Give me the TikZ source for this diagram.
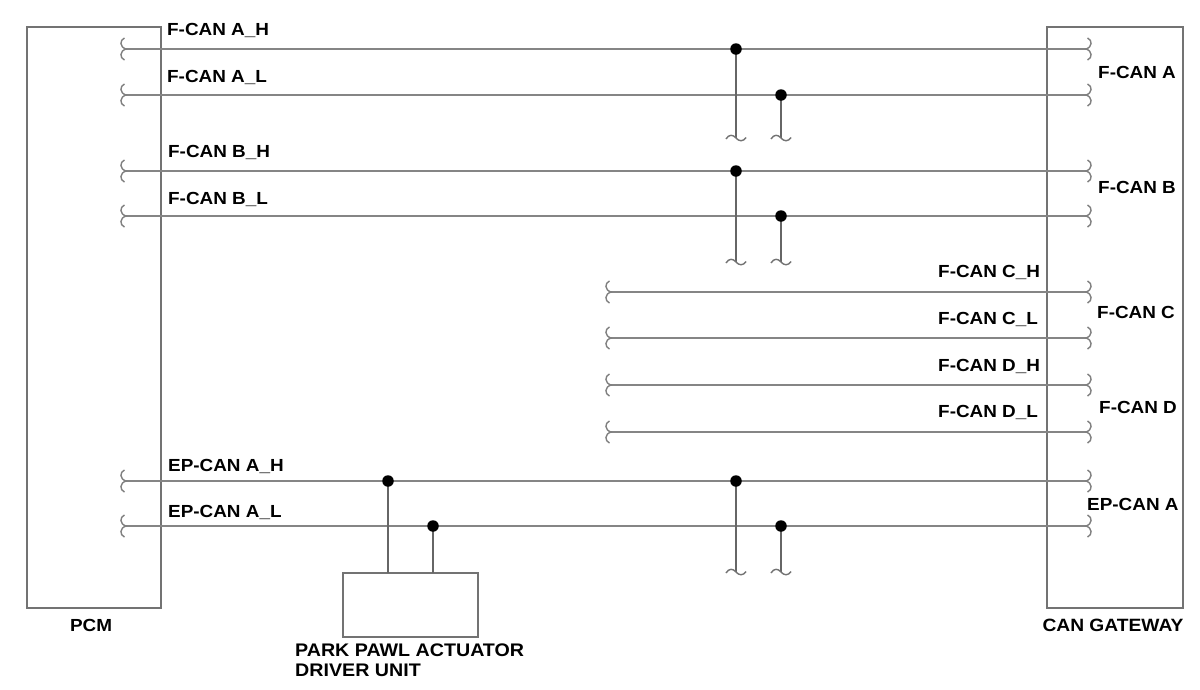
\documentclass[tikz,border=0pt]{standalone}
\usepackage{fontspec}
\setmainfont{Liberation Sans}[FakeStretch=1.08]
\tikzset{
  wire/.style={draw=black!48, line width=2pt},
  vwire/.style={draw=black!60, line width=1.8pt},
  unitbox/.style={draw=black!55, line width=2pt, inner sep=0pt, outer sep=0pt, anchor=north west},
  jdot/.style={circle, fill=black, inner sep=0pt, minimum size=11.5pt},
  lbl/.style={font=\fontsize{17.5}{20}\selectfont\bfseries, text=black, inner sep=0pt},
  brk/.pic={\draw[draw=black!50, line width=1.4pt] (1.5,-11) .. controls (6.5,-9) and (6.5,-2) .. (0,0) .. controls (6.5,2) and (6.5,9) .. (1.5,11);},
  tld/.pic={\draw[draw=black!55, line width=1.4pt] (-10,1) .. controls (-7,-4) and (-3,-3.5) .. (0,0) .. controls (3,3.5) and (7,4) .. (10,-0.5);}
}
\begin{document}
\begin{tikzpicture}[x=1pt,y=-1pt]
\useasboundingbox[fill=white] (0,0) rectangle (1200,689);

% boxes
\node[unitbox, minimum width=134pt, minimum height=581pt] (pcm) at (27,27) {};
\node[unitbox, minimum width=136pt, minimum height=581pt] (gw) at (1047,27) {};
\node[unitbox, minimum width=135pt, minimum height=64pt] (pp) at (343,573) {};

% end points
\foreach \n/\y in {AH/49, AL/95, BH/171, BL/216, EH/481, EL/526}{
  \coordinate (p\n) at (126,\y);
  \coordinate (g\n) at (1086,\y);
}
\foreach \n/\y in {CH/292, CL/338, DH/385, DL/432}{
  \coordinate (p\n) at (611,\y);
  \coordinate (g\n) at (1086,\y);
}
\foreach \n in {AH,AL,BH,BL,CH,CL,DH,DL,EH,EL}{
  \draw[wire] (p\n) -- (g\n);
  \pic[rotate=180] at (p\n) {brk};
  \pic at (g\n) {brk};
}

% junction points and stubs
\coordinate (cAH) at (736,49);
\coordinate (cAL) at (781,95);
\coordinate (cBH) at (736,171);
\coordinate (cBL) at (781,216);
\coordinate (cEH) at (736,481);
\coordinate (cEL) at (781,526);
\coordinate (dEH) at (388,481);
\coordinate (dEL) at (433,526);

\coordinate (tAH) at (736,138);
\coordinate (tAL) at (781,138);
\coordinate (tBH) at (736,262);
\coordinate (tBL) at (781,262);
\coordinate (tEH) at (736,572);
\coordinate (tEL) at (781,572);
\foreach \n in {AH,AL,BH,BL,EH,EL}{
  \draw[vwire] (c\n) -- (t\n);
  \pic at (t\n) {tld};
}
\draw[vwire] (dEH) -- (dEH |- pp.north);
\draw[vwire] (dEL) -- (dEL |- pp.north);

% junction dots
\foreach \n in {AH,AL,BH,BL,EH,EL}{
  \node[jdot] (j\n) at (c\n) {};
}
\node[jdot] (kEH) at (dEH) {};
\node[jdot] (kEL) at (dEL) {};

% wire labels
\node[lbl, anchor=base west] (lAH) at (167,35) {F-CAN A\_H};
\node[lbl, anchor=base west] (lAL) at (167,82.5) {F-CAN A\_L};
\node[lbl, anchor=base west] (lBH) at (168,157) {F-CAN B\_H};
\node[lbl, anchor=base west] (lBL) at (168,204.5) {F-CAN B\_L};
\node[lbl, anchor=base west] (lCH) at (938,277) {F-CAN C\_H};
\node[lbl, anchor=base west] (lCL) at (938,324) {F-CAN C\_L};
\node[lbl, anchor=base west] (lDH) at (938,371) {F-CAN D\_H};
\node[lbl, anchor=base west] (lDL) at (938,417) {F-CAN D\_L};
\node[lbl, anchor=base west] (lEH) at (168,471) {EP-CAN A\_H};
\node[lbl, anchor=base west] (lEL) at (168,517) {EP-CAN A\_L};

% gateway labels
\node[lbl, anchor=base west] (gA) at (1098,78) {F-CAN A};
\node[lbl, anchor=base west] (gB) at (1098,193) {F-CAN B};
\node[lbl, anchor=base west] (gC) at (1097,318) {F-CAN C};
\node[lbl, anchor=base west] (gD) at (1099,413) {F-CAN D};
\node[lbl, anchor=base west] (gE) at (1087,510) {EP-CAN A};

% unit labels
\node[lbl, anchor=base] (tpcm) at (91,631) {PCM};
\node[lbl, anchor=base, font=\fontsize{17.8}{20}\selectfont\bfseries] (tgw) at (1113,631) {CAN GATEWAY};
\node[lbl, anchor=north west, align=left, font=\fontsize{18.2}{20}\selectfont\bfseries] (tpp) at (295,644) {PARK PAWL ACTUATOR\\DRIVER UNIT};
\end{tikzpicture}
\end{document}
